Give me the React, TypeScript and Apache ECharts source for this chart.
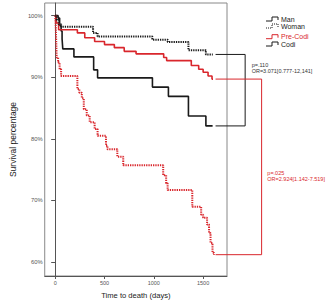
import React, { useEffect, useRef } from "react";
import * as echarts from "echarts";

const manDays = [0, 30, 45, 60, 70, 77, 190, 390, 430, 986, 1148, 1351, 1528, 1596];
const manSurv = [100, 99.6, 98.4, 97.5, 96.2, 94.6, 93.3, 91.2, 89.9, 88.4, 86.9, 83.7, 82.1, 82.1];

const womanDays = [0, 15, 35, 60, 384, 430, 985, 1141, 1351, 1528, 1598];
const womanSurv = [100, 99.3, 98.6, 98.2, 97.2, 96.6, 96.1, 95.7, 94.4, 93.7, 93.7];

const preDays = [0, 10, 35, 225, 300, 400, 500, 600, 700, 820, 1100, 1130, 1380, 1455, 1500, 1550, 1590, 1600];
const preSurv = [100, 98.8, 97.7, 97.2, 96.4, 95.8, 95.3, 94.8, 94.2, 93.8, 93.2, 92.7, 91.9, 91.3, 90.8, 90.2, 89.7, 89.7];

const codiDays = [0, 5, 10, 15, 30, 45, 60, 225, 245, 270, 290, 320, 350, 400, 430, 515, 530, 630, 690, 1095, 1125, 1140, 1390, 1480, 1500, 1540, 1560, 1575, 1595, 1610, 1615];
const codiSurv = [100, 98.5, 96, 93.2, 92.4, 91.3, 90.2, 88.1, 87.5, 86.6, 84.8, 83.8, 82.7, 81.6, 80.5, 78.9, 78.3, 77.1, 75.7, 74.1, 72.8, 71.7, 69.0, 67.7, 67.2, 66.1, 64.7, 63.1, 61.5, 61.2, 61.2];

const xTicks = [0, 500, 1000, 1500];
const yTicks = [60, 70, 80, 90, 100];

const legendNames = ["Man", "Woman", "Pre-Codi", "Codi"];
const legendColors = ["#1a1a1a", "#1a1a1a", "#d9262c", "#1a1a1a"];
const legendDotted = [false, true, false, false];

const pValues = ["p=.110", "p=.025"];
const orValues = ["OR=3.071[0.777-12,141]", "OR=2.924[1.142-7.519]"];

const RED = "#d9262c";
const BLACK = "#1a1a1a";
const FONT = "Liberation Sans, Arial, sans-serif";

const zip = (a: number[], b: number[]) => a.map((v, i) => [v, b[i]]);

export default function App() {
  const ref = useRef<HTMLDivElement>(null);
  useEffect(() => {
    if (!ref.current) return;
    const chart = echarts.init(ref.current, undefined, { renderer: "svg" });
    const lineSeries = (name: string, data: number[][], color: string, dotted: boolean) => ({
      name,
      type: "line",
      step: "end",
      data,
      showSymbol: false,
      symbol: "none",
      clip: false,
      lineStyle: {
        color,
        width: dotted ? 2 : 1.6,
        type: dotted ? [1.3, 1] : "solid",
      },
    });
    chart.setOption({
      animation: false,
      backgroundColor: "#fff",
      grid: {
        left: 36,
        top: 3,
        right: 102,
        bottom: 26,
        show: true,
        borderColor: "#888",
        borderWidth: 1,
      },
      xAxis: {
        type: "value",
        min: -106,
        max: 1742,
        name: "Time to death (days)",
        nameLocation: "middle",
        nameGap: 15,
        nameTextStyle: { fontFamily: FONT, fontSize: 7.6, color: "#222" },
        axisLine: { lineStyle: { color: "#555", width: 1 } },
        axisTick: { customValues: xTicks, length: 3, lineStyle: { color: "#555" } },
        axisLabel: {
          customValues: xTicks,
          formatter: (v: number) => String(v),
          fontFamily: FONT,
          fontSize: 5.5,
          color: "#555",
          margin: 4,
        },
        splitLine: { show: false },
      },
      yAxis: {
        type: "value",
        min: 57.74,
        max: 102.05,
        name: "Survival percentage",
        nameLocation: "middle",
        nameGap: 24,
        nameTextStyle: { fontFamily: FONT, fontSize: 8.5, color: "#222" },
        axisLine: { show: true, lineStyle: { color: "#555", width: 1 } },
        axisTick: { show: true, customValues: yTicks, length: 4, lineStyle: { color: "#555" } },
        axisLabel: {
          customValues: yTicks,
          formatter: (v: number) => `${v}%`,
          fontFamily: FONT,
          fontSize: 5.8,
          color: "#555",
          margin: 2,
        },
        splitLine: { show: false },
      },
      series: [
        lineSeries("Codi", zip(codiDays, codiSurv), RED, true),
        lineSeries("Man", zip(manDays, manSurv), BLACK, false),
        lineSeries("Pre-Codi", zip(preDays, preSurv), RED, false),
        lineSeries("Woman", zip(womanDays, womanSurv), BLACK, true),
      ],
    });

    const px = (x: number, y: number) => chart.convertToPixel({ gridIndex: 0 }, [x, y]) as number[];
    const startX = 1626;
    const brackets = [
      { top: womanSurv[womanSurv.length - 1], bottom: manSurv[manSurv.length - 1], xEnd: 1926, color: BLACK, textColor: "#333" },
      { top: preSurv[preSurv.length - 1], bottom: codiSurv[codiSurv.length - 1], xEnd: 2093, color: RED, textColor: RED },
    ];
    const graphics: any[] = [];
    brackets.forEach((b, i) => {
      const a = px(startX, b.top);
      const c = px(b.xEnd, b.top);
      const d = px(b.xEnd, b.bottom);
      const e = px(startX, b.bottom);
      graphics.push({
        type: "polyline",
        shape: { points: [a, c, d, e] },
        style: { stroke: b.color, lineWidth: 1, fill: null },
        silent: true,
      });
      const tx = c[0] + (i === 0 ? 6.5 : 5.7);
      const ty = i === 0 ? c[1] + 10.3 : (c[1] + d[1]) / 2 + 6;
      graphics.push({
        type: "text",
        x: tx,
        y: ty,
        style: {
          text: pValues[i],
          fill: b.textColor,
          font: `5.5px ${FONT}`,
          verticalAlign: "middle",
        },
      });
      graphics.push({
        type: "text",
        x: tx,
        y: ty + 6.3,
        style: {
          text: orValues[i],
          fill: b.textColor,
          font: `5.5px ${FONT}`,
          verticalAlign: "middle",
        },
      });
    });

    const legendY = [19, 26, 36.7, 44];
    legendNames.forEach((n, i) => {
      const y = legendY[i];
      graphics.push({
        type: "polyline",
        shape: {
          points: [
            [266, y + 2],
            [272, y + 2],
            [272, y - 2],
            [278, y - 2],
            [278, y + 1],
          ],
        },
        style: {
          stroke: legendColors[i],
          lineWidth: 1,
          fill: null,
          lineDash: legendDotted[i] ? [1, 1] : null,
        },
      });
      graphics.push({
        type: "text",
        x: 281,
        y,
        style: {
          text: n,
          fill: legendColors[i],
          font: `7px ${FONT}`,
          verticalAlign: "middle",
        },
      });
    });

    chart.setOption({ graphic: graphics });
    return () => chart.dispose();
  }, []);
  return <div ref={ref} style={{ width: 329, height: 304, position: "absolute", left: 0, top: 0 }} />;
}
